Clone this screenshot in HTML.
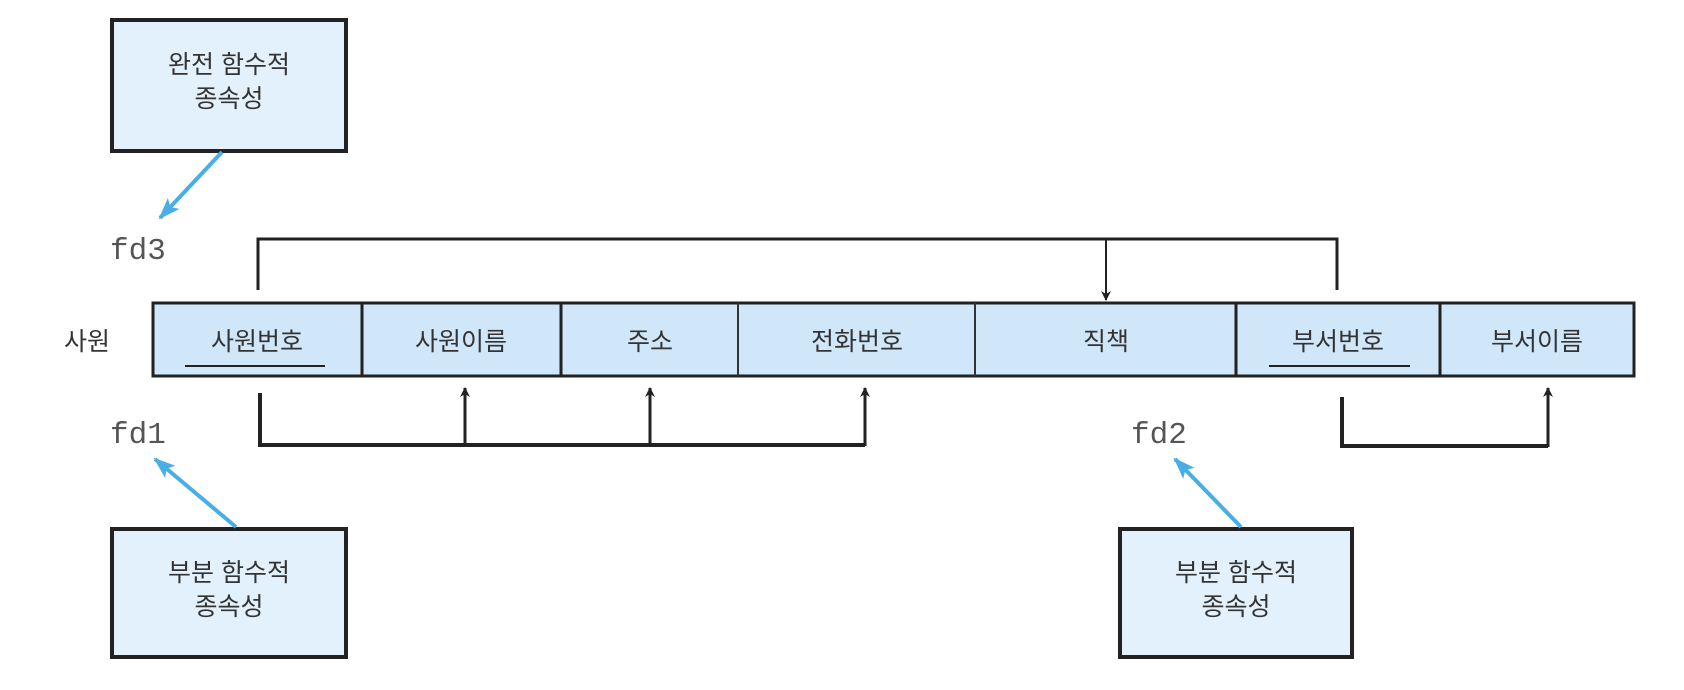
<!DOCTYPE html>
<html><head><meta charset="utf-8"><style>
html,body{margin:0;padding:0;background:#fff;}
svg{display:block;}
.k{font-family:"Liberation Sans","Noto Sans CJK KR","NanumGothic",sans-serif;font-size:25px;fill:#333;}
.m{font-family:"Liberation Mono",monospace;font-size:31px;fill:#555;}
</style></head><body>
<svg width="1684" height="690" viewBox="0 0 1684 690" xmlns="http://www.w3.org/2000/svg">
<defs>
<marker id="ab" markerWidth="10" markerHeight="10" refX="9" refY="5" orient="auto" markerUnits="userSpaceOnUse"><path d="M0,0 L10,5 L0,10 L3,5 Z" fill="#222"/></marker>
<marker id="ablue" markerWidth="22" markerHeight="16" refX="20" refY="8" orient="auto" markerUnits="userSpaceOnUse"><path d="M0,0 L22,8 L0,16 L5,8 Z" fill="#4aaee6"/></marker>
</defs>
<!-- boxes -->
<rect x="112" y="20" width="234" height="131" fill="#e2f1fb" stroke="#222" stroke-width="4"/>
<text class="k" x="229" y="73" text-anchor="middle">완전 함수적</text>
<text class="k" x="229" y="107" text-anchor="middle">종속성</text>
<rect x="112" y="529" width="234" height="128" fill="#e2f1fb" stroke="#222" stroke-width="4"/>
<text class="k" x="229" y="581" text-anchor="middle">부분 함수적</text>
<text class="k" x="229" y="615" text-anchor="middle">종속성</text>
<rect x="1120" y="529" width="232" height="128" fill="#e2f1fb" stroke="#222" stroke-width="4"/>
<text class="k" x="1236" y="581" text-anchor="middle">부분 함수적</text>
<text class="k" x="1236" y="615" text-anchor="middle">종속성</text>
<!-- blue arrows -->
<line x1="222" y1="152" x2="160" y2="218" stroke="#4aaee6" stroke-width="4" marker-end="url(#ablue)"/>
<line x1="236" y1="527" x2="155" y2="459" stroke="#4aaee6" stroke-width="4" marker-end="url(#ablue)"/>
<line x1="1241" y1="527" x2="1175" y2="459" stroke="#4aaee6" stroke-width="4" marker-end="url(#ablue)"/>
<!-- fd labels -->
<text class="m" x="110" y="259">fd3</text>
<text class="m" x="110" y="443">fd1</text>
<text class="m" x="1131" y="443">fd2</text>
<!-- table -->
<text class="k" x="64" y="350">사원</text>
<rect x="153" y="303" width="1481" height="73" fill="#cfe7f8" stroke="#222" stroke-width="3"/>
<line x1="362" y1="303" x2="362" y2="376" stroke="#222" stroke-width="3"/>
<line x1="561" y1="303" x2="561" y2="376" stroke="#222" stroke-width="3"/>
<line x1="738" y1="303" x2="738" y2="376" stroke="#333" stroke-width="2"/>
<line x1="975" y1="303" x2="975" y2="376" stroke="#333" stroke-width="2"/>
<line x1="1236" y1="303" x2="1236" y2="376" stroke="#222" stroke-width="3"/>
<line x1="1440" y1="303" x2="1440" y2="376" stroke="#222" stroke-width="3"/>
<g class="k" text-anchor="middle">
<text x="257" y="350">사원번호</text>
<text x="461" y="350">사원이름</text>
<text x="650" y="350">주소</text>
<text x="857" y="350">전화번호</text>
<text x="1106" y="350">직책</text>
<text x="1338" y="350">부서번호</text>
<text x="1537" y="350">부서이름</text>
</g>
<line x1="185" y1="366" x2="325" y2="366" stroke="#222" stroke-width="2"/>
<line x1="1269" y1="366" x2="1410" y2="366" stroke="#222" stroke-width="2"/>
<!-- top bracket -->
<polyline points="258,290 258,239 1337,239 1337,290" fill="none" stroke="#222" stroke-width="3"/>
<line x1="1106" y1="239" x2="1106" y2="300" stroke="#222" stroke-width="2" marker-end="url(#ab)"/>
<!-- bottom bracket fd1 -->
<polyline points="260,393 260,445 865,445" fill="none" stroke="#222" stroke-width="4"/>
<line x1="465" y1="445" x2="465" y2="388" stroke="#222" stroke-width="3" marker-end="url(#ab)"/>
<line x1="650" y1="445" x2="650" y2="388" stroke="#222" stroke-width="3" marker-end="url(#ab)"/>
<line x1="865" y1="446" x2="865" y2="388" stroke="#222" stroke-width="3" marker-end="url(#ab)"/>
<!-- fd2 bracket -->
<polyline points="1342,397 1342,446 1548,446" fill="none" stroke="#222" stroke-width="4"/>
<line x1="1548" y1="447" x2="1548" y2="388" stroke="#222" stroke-width="3" marker-end="url(#ab)"/>
</svg>
</body></html>
